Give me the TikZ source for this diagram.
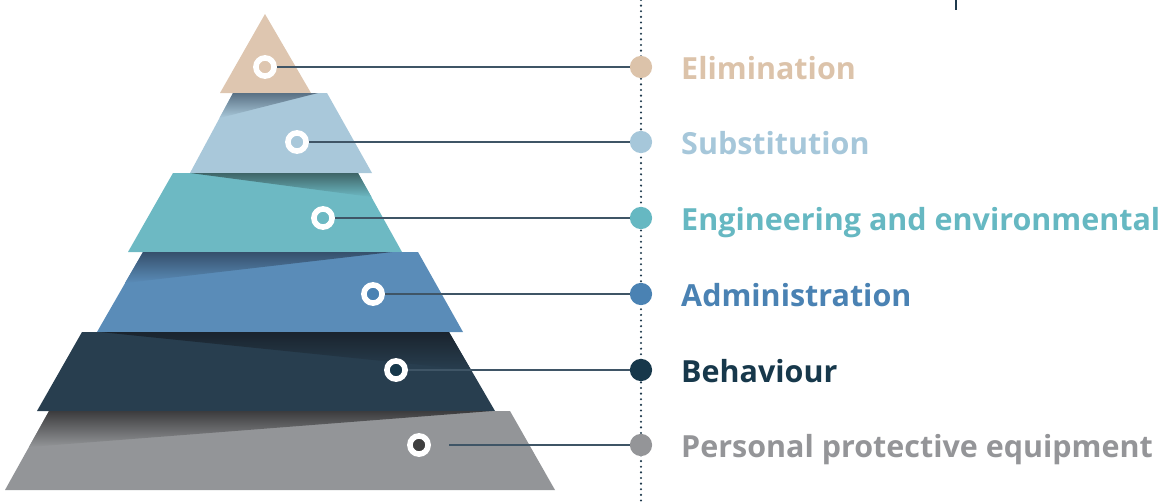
\documentclass[tikz,border=0pt]{standalone}
\usepackage{fontspec}
\setmainfont{Open Sans}
\usetikzlibrary{shadings}

% layer colours
\definecolor{elimcol}{HTML}{DEC6B0}
\definecolor{substcol}{HTML}{A9C8DA}
\definecolor{engcol}{HTML}{6DB9C3}
\definecolor{admincol}{HTML}{5A8CB8}
\definecolor{behavcol}{HTML}{283E4F}
\definecolor{ppecol}{HTML}{939598}
% shadows under the upper layer
\definecolor{substdark}{HTML}{5A7184}
\definecolor{engdark}{HTML}{3E6567}
\definecolor{admindark}{HTML}{36506C}
\definecolor{behavdark}{HTML}{1A242E}
\definecolor{ppedark}{HTML}{3C3C3E}
% dots and labels
\definecolor{elimdot}{HTML}{DCC3AA}
\definecolor{substdot}{HTML}{A6C7DA}
\definecolor{engdot}{HTML}{66B8C2}
\definecolor{admindot}{HTML}{4A82B3}
\definecolor{behavdot}{HTML}{17384B}
\definecolor{ppedot}{HTML}{949598}
\definecolor{linkcol}{HTML}{3F5566}
\definecolor{axiscol}{HTML}{1F3A4D}

\tikzset{
	ring/.style = {circle, draw = white, line width = 4.8pt, minimum size = 15.5pt, inner sep = 0pt},
	dot/.style = {circle, minimum size = 19pt, inner sep = 0pt},
	lbl/.style = {anchor = base west, inner sep = 0pt, font = \fontsize{26}{30}\selectfont\bfseries},
	link/.style = {draw = linkcol, line width = 1.4pt},
}

\begin{document}
\begin{tikzpicture}[x = 0.03cm, y = -0.03cm]
	\useasboundingbox (0, 0) rectangle (1172, 503);
	%%%%%%%%% pyramid
	\fill[elimcol] (265, 14) -- (311, 93) -- (220, 93) -- cycle;
	\fill[substcol] (233, 93) -- (327, 93) -- (372, 173) -- (190, 173) -- cycle;
	\shade[top color = substdark, bottom color = substcol] (233, 93) -- (318, 93) -- (219.5, 118) -- cycle;
	\fill[engcol] (173, 173) -- (358, 173) -- (402, 252) -- (128, 252) -- cycle;
	\shade[top color = engdark, bottom color = engcol] (190, 173) -- (358, 173) -- (371.5, 197) -- cycle;
	\fill[admincol] (143, 252) -- (418, 252) -- (463, 332) -- (97, 332) -- cycle;
	\shade[top color = admindark, bottom color = admincol] (143, 252) -- (392, 252) -- (125, 283) -- cycle;
	\fill[behavcol] (82, 332) -- (449, 332) -- (495, 411) -- (37, 411) -- cycle;
	\shade[top color = behavdark, bottom color = behavcol] (100, 332) -- (449, 332) -- (471, 370) -- cycle;
	\fill[ppecol] (49, 411) -- (510, 411) -- (555, 490) -- (5, 490) -- cycle;
	\shade[top color = ppedark, bottom color = ppecol] (49, 411) -- (492, 411) -- (29, 447) -- cycle;
	%%%%%%%%% axis
	\coordinate (axtop) at (641, 0);
	\coordinate (axbot) at (641, 503);
	\draw[axiscol, line width = 2pt, line cap = round, dash pattern = on 0pt off 4.8pt] (axtop) -- (axbot);
	\coordinate (ticktop) at (956, 0);
	\coordinate (tickbot) at (956, 10);
	\draw[axiscol, line width = 1.6pt] (ticktop) -- (tickbot);
	%%%%%%%%% markers on the layers
	\node[ring, fill = elimcol] (r1) at (265, 67) {};
	\node[ring, fill = substcol] (r2) at (297, 142) {};
	\node[ring, fill = engcol] (r3) at (323, 218) {};
	\node[ring, fill = admindot] (r4) at (373, 294) {};
	\node[ring, fill = behavdot] (r5) at (396, 370) {};
	\node[ring, fill = black!75] (r6) at (419, 445) {};
	\coordinate (r6end) at (449, 445);
	%%%%%%%%% dots on the axis
	\node[dot, fill = elimdot] (d1) at (641, 67) {};
	\node[dot, fill = substdot] (d2) at (641, 142) {};
	\node[dot, fill = engdot] (d3) at (641, 218) {};
	\node[dot, fill = admindot] (d4) at (641, 294) {};
	\node[dot, fill = behavdot] (d5) at (641, 370) {};
	\node[dot, fill = ppedot] (d6) at (641, 445) {};
	\draw[link] (r1) -- (d1);
	\draw[link] (r2) -- (d2);
	\draw[link] (r3) -- (d3);
	\draw[link] (r4) -- (d4);
	\draw[link] (r5) -- (d5);
	\draw[link] (r6end) -- (d6);
	%%%%%%%%% labels
	\node[lbl, text = elimdot] (t1) at (681, 79) {Elimination};
	\node[lbl, text = substdot] (t2) at (681, 154) {Substitution};
	\node[lbl, text = engdot] (t3) at (681, 230) {Engineering and environmental};
	\node[lbl, text = admindot] (t4) at (681, 306) {Administration};
	\node[lbl, text = behavdot] (t5) at (681, 382) {Behaviour};
	\node[lbl, text = ppedot] (t6) at (681, 457) {Personal protective equipment};
\end{tikzpicture}
\end{document}
